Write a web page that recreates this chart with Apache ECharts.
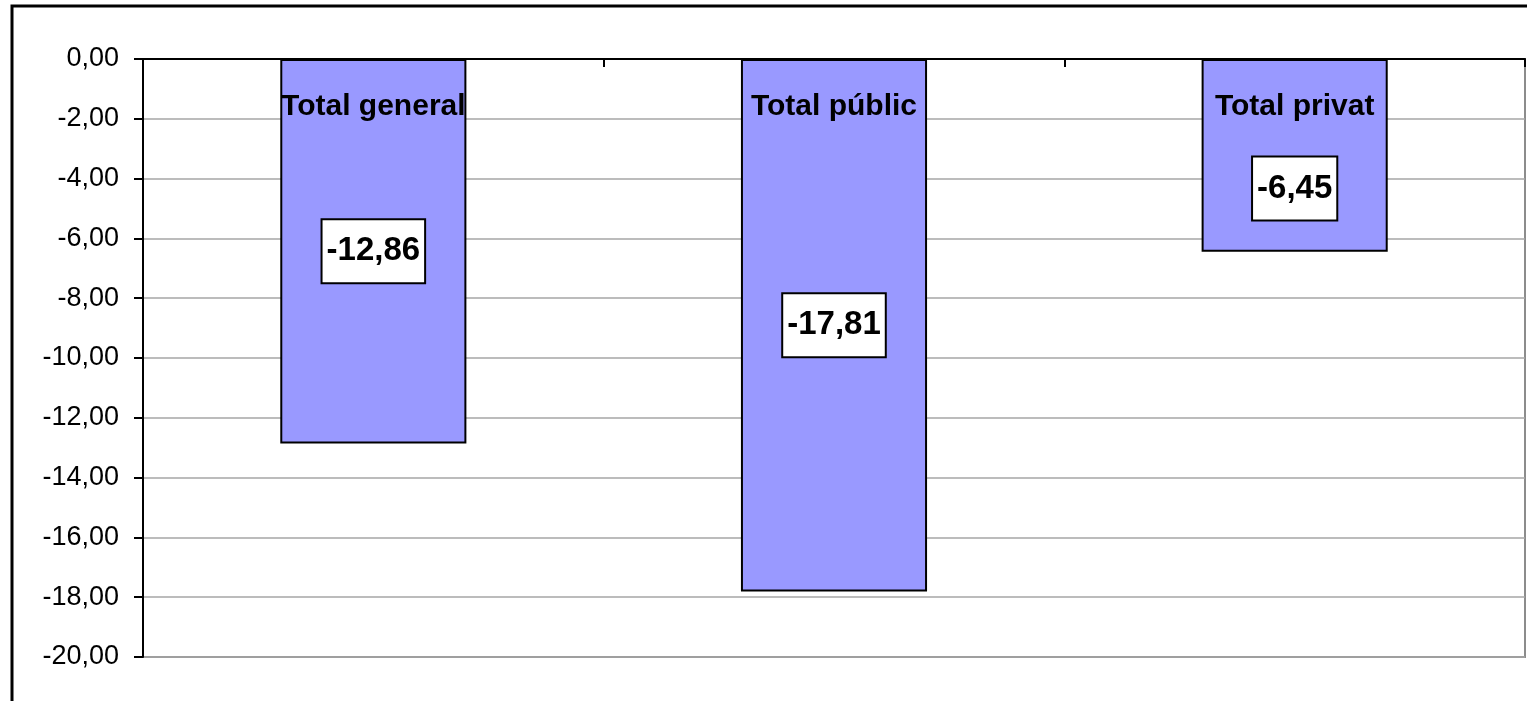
<!DOCTYPE html>
<html>
<head>
<meta charset="utf-8">
<script src="https://cdn.jsdelivr.net/npm/echarts@6/dist/echarts.min.js"></script>
<style>
  html, body { margin: 0; padding: 0; background: #fff; }
  #chart { width: 1527px; height: 701px; }
</style>
</head>
<body>
<div id="chart"></div>
<script>
// categories and values
var categories = ['Total general', 'Total públic', 'Total privat'];
var values = [-12.86, -17.81, -6.45];
var yMin = -20;
var yMax = 0;
var yStep = 2;

// the last value box sits lower than the bar centre in the original
var labelShift = [0, 0, 33];

var font = 'Arial, "Liberation Sans", sans-serif';

function comma (v, d) {
  return v.toFixed(d).replace('.', ',');
}

var chart = echarts.init(document.getElementById('chart'));

var option = {
  animation: false,
  backgroundColor: '#fff',
  grid: {
    left: 143,
    top: 59,
    right: 2,
    bottom: 44,
    show: true,
    borderColor: '#8c8c8c',
    borderWidth: 2,
  },
  // outer frame of the chart (left and top edge)
  graphic: [{
    type: 'polyline',
    shape: { points: [[12, 701], [12, 6], [1527, 6]] },
    style: { stroke: '#000', lineWidth: 3, fill: null },
  }],
  xAxis: {
    type: 'category',
    data: categories,
    axisLine: { onZero: true, lineStyle: { color: '#000', width: 2 } },
    axisTick: { show: true, inside: false, length: 8, lineStyle: { color: '#000', width: 2 } },
    axisLabel: { show: false },
    splitLine: { show: false },
  },
  yAxis: {
    type: 'value',
    min: yMin,
    max: yMax,
    interval: yStep,
    axisLine: { show: true, lineStyle: { color: '#000', width: 2 } },
    axisTick: { show: true, length: 9, lineStyle: { color: '#000', width: 2 } },
    axisLabel: {
      color: '#000',
      fontFamily: font,
      fontSize: 27,
      margin: 24,
      padding: [4, 0, 0, 0],
      formatter: function (v) { return comma(v, 2); },
    },
    splitLine: { lineStyle: { color: '#a6a6a6', width: 1.5 } },
  },
  series: [
    {
      name: 'valor',
      type: 'bar',
      data: values.map(function (v, i) {
        return { value: v, label: { offset: [0, labelShift[i]] } };
      }),
      barWidth: '40.4%',
      barGap: '-100%',
      itemStyle: { color: '#9999ff', borderColor: '#000', borderWidth: 2 },
      label: {
        show: true,
        position: 'inside',
        fontFamily: font,
        fontWeight: 'bold',
        fontSize: 33,
        color: '#000',
        backgroundColor: '#fff',
        borderColor: '#000',
        borderWidth: 2,
        padding: [16, 4, 13, 4],
        formatter: function (p) { return comma(p.value, 2); },
      },
      z: 2,
    },
    {
      name: 'categoria',
      type: 'bar',
      data: values,
      barWidth: '40.4%',
      barGap: '-100%',
      itemStyle: { color: 'rgba(0,0,0,0)' },
      label: {
        show: true,
        position: 'insideTop',
        distance: 33,
        fontFamily: font,
        fontWeight: 'bold',
        fontSize: 30,
        color: '#000',
        formatter: function (p) { return p.name; },
      },
      z: 3,
    },
  ],
};

chart.setOption(option);
</script>
</body>
</html>
